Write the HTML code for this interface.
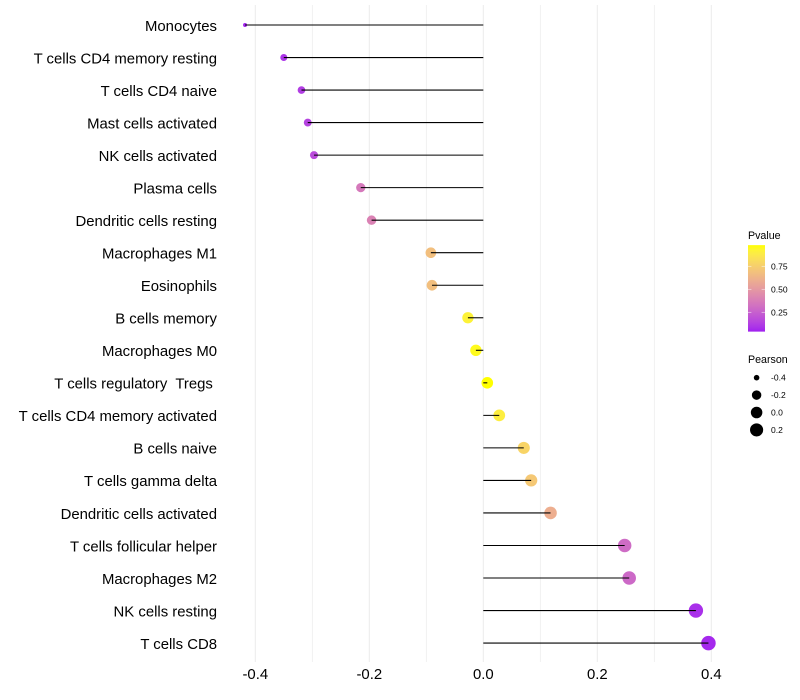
<!DOCTYPE html>
<html lang="en">
<head>
<meta charset="utf-8">
<title>Pearson correlation lollipop chart</title>
<style>
html,body{margin:0;padding:0;background:#fff;width:800px;height:700px;overflow:hidden}
svg{display:block;font-family:"Liberation Sans",Arial,sans-serif}
text{white-space:pre}
</style>
</head>
<body>
<svg id="chart" width="800" height="700" viewBox="0 0 800 700" xmlns="http://www.w3.org/2000/svg">
<defs>
<linearGradient id="pgrad" x1="0" y1="1" x2="0" y2="0"></linearGradient>
</defs>
<rect width="800" height="700" fill="#ffffff"></rect>
<g id="grid"></g>
<g id="points"></g>
<g id="stems"></g>
<g id="ylabels"></g>
<g id="xlabels"></g>
<g id="legend-color"></g>
<g id="legend-size"></g>
</svg>
<script>
const categories = ["Monocytes","T cells CD4 memory resting","T cells CD4 naive","Mast cells activated","NK cells activated","Plasma cells","Dendritic cells resting","Macrophages M1","Eosinophils","B cells memory","Macrophages M0","T cells regulatory  Tregs ","T cells CD4 memory activated","B cells naive","T cells gamma delta","Dendritic cells activated","T cells follicular helper","Macrophages M2","NK cells resting","T cells CD8"];
const pearson = [-0.418,-0.35,-0.319,-0.308,-0.297,-0.215,-0.196,-0.092,-0.09,-0.027,-0.013,0.007,0.028,0.071,0.084,0.118,0.248,0.256,0.373,0.395];
const pvalue = [0.05,0.09,0.12,0.14,0.17,0.36,0.40,0.68,0.68,0.92,0.96,0.98,0.90,0.78,0.72,0.60,0.30,0.29,0.08,0.06];
const xMajorTicks = [-0.4,-0.2,0,0.2,0.4];
const xMinorTicks = [-0.3,-0.1,0.1,0.3];
const xTickLabels = ["-0.4","-0.2","0.0","0.2","0.4"];
const pvalueTicks = [0.25,0.5,0.75];
const pvalueTickLabels = ["0.25","0.50","0.75"];
const pearsonLegendValues = [-0.4,-0.2,0,0.2];
const pearsonLegendLabels = ["-0.4","-0.2","0.0","0.2"];

const NS = "http://www.w3.org/2000/svg";
function mk(parent, tag, attrs, txt){
  const el = document.createElementNS(NS, tag);
  for (const k in attrs) el.setAttribute(k, attrs[k]);
  if (txt !== undefined) el.textContent = txt;
  parent.appendChild(el);
  return el;
}
const xScale = v => 483.3 + v * 570;
const yScale = i => 25 + i * 32.53;
const pMin = 0.04, pMax = 0.98;
const pY = p => 335.3 - p * 92;
function sizeScale(v){
  const lo = -0.418, hi = 0.395;
  const t = Math.max(0, (v - lo) / (hi - lo));
  return (4 + 10.5 * Math.sqrt(t)) / 2;
}
function rgb2lab(c){
  const f = u => { u /= 255; return u > 0.04045 ? Math.pow((u + 0.055) / 1.055, 2.4) : u / 12.92; };
  const r = f(c[0]), g = f(c[1]), b = f(c[2]);
  const X = (0.4124 * r + 0.3576 * g + 0.1805 * b) / 0.95047;
  const Y = 0.2126 * r + 0.7152 * g + 0.0722 * b;
  const Z = (0.0193 * r + 0.1192 * g + 0.9505 * b) / 1.08883;
  const h = t => t > 0.008856 ? Math.cbrt(t) : 7.787 * t + 16 / 116;
  return [116 * h(Y) - 16, 500 * (h(X) - h(Y)), 200 * (h(Y) - h(Z))];
}
function lab2rgb(l){
  const fy = (l[0] + 16) / 116, fx = fy + l[1] / 500, fz = fy - l[2] / 200;
  const h = t => t * t * t > 0.008856 ? t * t * t : (t - 16 / 116) / 7.787;
  const X = h(fx) * 0.95047, Y = h(fy), Z = h(fz) * 1.08883;
  const g = u => { u = u > 0.0031308 ? 1.055 * Math.pow(u, 1 / 2.4) - 0.055 : 12.92 * u; return Math.round(Math.min(1, Math.max(0, u)) * 255); };
  return "rgb(" + g(3.2406 * X - 1.5372 * Y - 0.4986 * Z) + "," + g(-0.9689 * X + 1.8758 * Y + 0.0415 * Z) + "," + g(0.0557 * X - 0.204 * Y + 1.057 * Z) + ")";
}
const labLow = rgb2lab([160, 32, 240]), labHigh = rgb2lab([255, 255, 0]);
function colorScale(p){
  const t = Math.min(1, Math.max(0, (p - pMin) / (pMax - pMin)));
  return lab2rgb(labLow.map((v, i) => v + (labHigh[i] - v) * t));
}

const grid = document.getElementById("grid");
xMinorTicks.forEach(v => {
  const l = mk(grid, "line", {x1: xScale(v), x2: xScale(v), y1: 5, y2: 662, stroke: "#ebebeb", "stroke-width": 0.7});
  
  
});
xMajorTicks.forEach(v => {
  const l = mk(grid, "line", {x1: xScale(v), x2: xScale(v), y1: 5, y2: 662, stroke: "#ebebeb", "stroke-width": 1});
  
  
});

const pointsG = document.getElementById("points");
const stemsG = document.getElementById("stems");
const ylabels = document.getElementById("ylabels");
categories.forEach((name, i) => {
  const c = mk(pointsG, "circle", {cx: xScale(pearson[i]), cy: yScale(i), r: sizeScale(pearson[i]), fill: colorScale(pvalue[i])});
  
  
  const s = mk(stemsG, "line", {x1: xScale(0), x2: xScale(pearson[i]), y1: yScale(i), y2: yScale(i), stroke: "#000000", "stroke-width": 1.07});
  
  
  const t = mk(ylabels, "text", {x: 217, y: yScale(i) + 5.8, "text-anchor": "end", "font-size": 14.9, fill: "#000000"}, name);
  
  
});

const xlabels = document.getElementById("xlabels");
xMajorTicks.forEach((v, i) => {
  const t = mk(xlabels, "text", {x: xScale(v), y: 679, "text-anchor": "middle", "font-size": 14.9, fill: "#000000"}, xTickLabels[i]);
  
  
});

const grad = document.getElementById("pgrad");
for (let k = 0; k <= 20; k++) {
  mk(grad, "stop", {offset: (k * 5) + "%", "stop-color": colorScale(pMin + (pMax - pMin) * k / 20)});
}
const lc = document.getElementById("legend-color");
const lcTitle = mk(lc, "text", {x: 748, y: 239, "font-size": 10.67, fill: "#000000"}, "Pvalue");


const bar = mk(lc, "rect", {x: 748, y: pY(pMax), width: 17, height: pY(pMin) - pY(pMax), fill: "url(#pgrad)"});


pvalueTicks.forEach((p, i) => {
  const a = mk(lc, "line", {x1: 748, x2: 751.4, y1: pY(p), y2: pY(p), stroke: "#ffffff", "stroke-opacity": 0.7, "stroke-width": 0.7});
  
  
  const b = mk(lc, "line", {x1: 761.6, x2: 765, y1: pY(p), y2: pY(p), stroke: "#ffffff", "stroke-opacity": 0.7, "stroke-width": 0.7});
  
  
  const t = mk(lc, "text", {x: 771, y: pY(p) + 3, "font-size": 8.53, fill: "#000000"}, pvalueTickLabels[i]);
  
  
});

const ls = document.getElementById("legend-size");
const lsTitle = mk(ls, "text", {x: 748, y: 363, "font-size": 10.67, fill: "#000000"}, "Pearson");


pearsonLegendValues.forEach((v, i) => {
  const y = 377.7 + i * 17.4;
  const c = mk(ls, "circle", {cx: 756.6, cy: y, r: sizeScale(v), fill: "#000000"});
  
  
  const t = mk(ls, "text", {x: 771, y: y + 3, "font-size": 8.53, fill: "#000000"}, pearsonLegendLabels[i]);
  
  
});
</script>
</body>
</html>
